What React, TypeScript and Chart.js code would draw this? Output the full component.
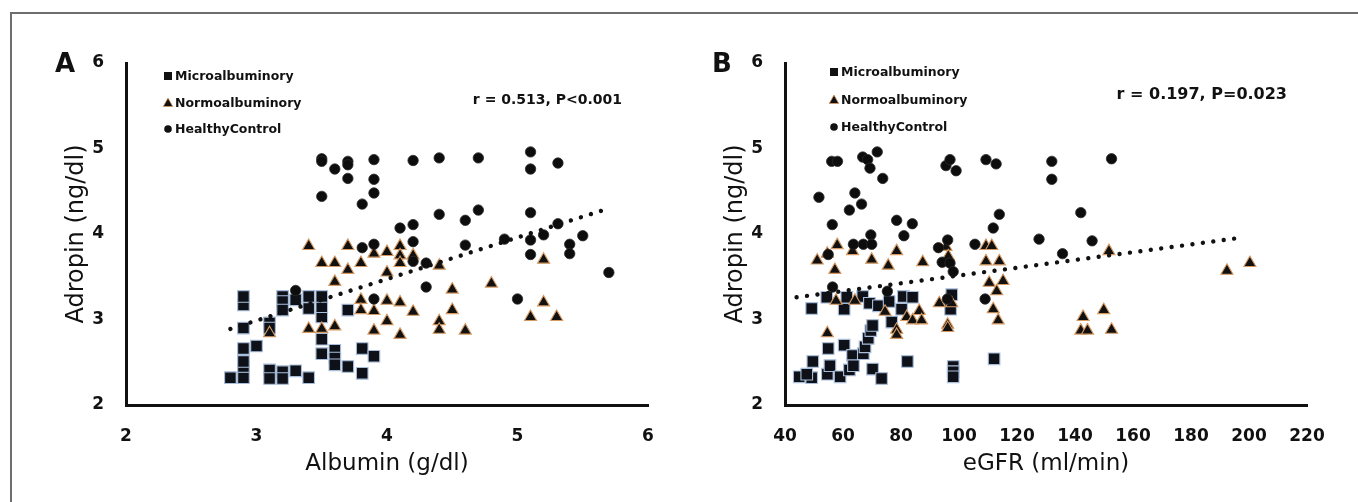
import React, { useEffect, useRef } from "react";
import { Chart, registerables } from "chart.js";

Chart.register(...registerables);

// ---------- Panel A: Albumin (g/dl) vs Adropin (ng/dl) ----------
const albMicroX = [2.8, 2.9, 2.9, 2.9, 2.9, 3.0, 2.9, 2.9, 2.9, 3.1, 3.1, 3.2, 3.2, 3.3, 3.4, 3.1, 3.1, 3.5, 3.5, 3.6, 3.6, 3.6, 3.7, 3.81, 3.81, 3.9, 3.5, 3.5, 3.5, 3.7, 3.2, 3.2, 3.2, 3.3, 3.4, 3.4];
const albMicroY = [2.32, 2.32, 2.45, 2.51, 2.66, 2.69, 2.9, 3.17, 3.27, 2.41, 2.31, 2.39, 2.31, 2.4, 2.32, 2.96, 2.9, 2.6, 2.77, 2.64, 2.55, 2.47, 2.45, 2.66, 2.37, 2.57, 3.03, 3.15, 3.27, 3.11, 3.27, 3.21, 3.11, 3.23, 3.27, 3.13];

const albNormoX = [3.4, 3.7, 3.5, 3.6, 3.8, 3.7, 3.6, 3.9, 4.0, 4.1, 4.1, 4.1, 4.2, 4.0, 4.4, 4.8, 4.5, 5.2, 3.8, 3.8, 3.9, 4.0, 4.1, 4.2, 4.5, 4.0, 4.4, 4.4, 3.9, 4.1, 4.6, 3.4, 3.5, 3.6, 3.1, 5.1, 5.2, 5.3];
const albNormoY = [3.86, 3.86, 3.66, 3.66, 3.66, 3.58, 3.44, 3.77, 3.79, 3.86, 3.75, 3.66, 3.75, 3.55, 3.63, 3.42, 3.35, 3.7, 3.23, 3.11, 3.1, 3.22, 3.2, 3.09, 3.11, 2.98, 2.98, 2.88, 2.87, 2.82, 2.87, 2.89, 2.89, 2.92, 2.84, 3.03, 3.2, 3.03];

const albHealthyX = [3.5, 3.5, 3.6, 3.7, 3.7, 3.9, 3.7, 3.9, 3.9, 3.5, 3.81, 4.2, 4.4, 4.7, 5.1, 5.1, 5.31, 4.4, 4.6, 4.7, 5.1, 4.1, 4.2, 4.2, 3.9, 3.81, 4.6, 4.9, 5.1, 5.2, 5.31, 5.4, 5.4, 5.5, 5.1, 5.7, 4.2, 4.3, 4.3, 5.0, 3.9, 3.3];
const albHealthyY = [4.88, 4.85, 4.76, 4.85, 4.81, 4.87, 4.65, 4.64, 4.48, 4.44, 4.35, 4.86, 4.89, 4.89, 4.96, 4.76, 4.83, 4.23, 4.16, 4.28, 4.25, 4.07, 4.11, 3.91, 3.88, 3.84, 3.87, 3.94, 3.93, 3.99, 4.12, 3.88, 3.77, 3.98, 3.76, 3.55, 3.68, 3.66, 3.38, 3.24, 3.24, 3.34];

const albTrendX = [2.8, 5.68];
const albTrendY = [2.89, 4.29];

const albTicksX = [2, 3, 4, 5, 6];

// ---------- Panel B: eGFR (ml/min) vs Adropin (ng/dl) ----------
const gfrMicroX = [44.9, 49.2, 47.5, 49.6, 49.2, 54.6, 55.5, 54.9, 54.4, 59.0, 60.4, 60.4, 61.3, 62.2, 63.3, 63.6, 66.8, 67.0, 67.6, 68.7, 69.6, 70.2, 69.1, 70.2, 72.2, 73.3, 75.9, 76.8, 80.2, 80.8, 84.0, 82.2, 97.5, 97.1, 98.0, 98.0, 98.0, 112.1];
const gfrMicroY = [2.33, 2.32, 2.36, 2.51, 3.13, 2.36, 2.46, 2.66, 3.26, 2.33, 2.7, 3.12, 3.26, 2.41, 2.58, 2.46, 3.27, 2.6, 2.68, 2.78, 2.87, 2.93, 3.19, 2.42, 3.16, 2.31, 3.21, 2.97, 3.12, 3.27, 3.26, 2.51, 3.29, 3.12, 2.45, 2.39, 2.33, 2.54];

const gfrNormoX = [51.1, 54.6, 58.0, 63.3, 57.2, 69.9, 78.5, 75.6, 87.5, 54.6, 57.6, 64.1, 74.5, 82.0, 84.0, 86.3, 87.1, 78.5, 78.5, 93.2, 97.5, 96.1, 96.1, 109.3, 111.3, 109.3, 113.9, 110.4, 115.2, 113.0, 111.8, 113.5, 95.5, 96.3, 151.7, 142.8, 142.0, 144.3, 149.9, 152.6, 192.4, 200.3];
const gfrNormoY = [3.69, 3.77, 3.87, 3.8, 3.58, 3.7, 3.8, 3.63, 3.67, 2.84, 3.22, 3.22, 3.09, 3.03, 2.99, 3.1, 2.99, 2.88, 2.82, 3.19, 3.19, 2.94, 2.9, 3.86, 3.86, 3.68, 3.68, 3.43, 3.45, 3.33, 3.12, 2.99, 3.85, 3.74, 3.8, 3.03, 2.87, 2.87, 3.11, 2.88, 3.57, 3.66];

const gfrHealthyX = [56.1, 58.1, 66.8, 68.5, 69.3, 71.8, 73.7, 51.7, 64.1, 66.4, 62.2, 56.3, 78.5, 83.9, 81.0, 69.6, 63.6, 67.0, 69.9, 54.9, 95.5, 96.9, 99.0, 109.3, 112.8, 113.9, 111.8, 96.1, 92.9, 105.5, 127.6, 132.0, 132.0, 142.0, 145.9, 135.7, 152.6, 94.2, 96.9, 98.0, 56.4, 75.3, 96.0, 109.0];
const gfrHealthyY = [4.85, 4.85, 4.9, 4.87, 4.77, 4.96, 4.65, 4.43, 4.48, 4.35, 4.28, 4.11, 4.16, 4.12, 3.98, 3.99, 3.88, 3.88, 3.88, 3.76, 4.8, 4.87, 4.74, 4.87, 4.82, 4.23, 4.07, 3.93, 3.84, 3.88, 3.94, 4.85, 4.64, 4.25, 3.92, 3.77, 4.88, 3.67, 3.66, 3.56, 3.38, 3.33, 3.24, 3.24];

const gfrTrendX = [44, 198];
const gfrTrendY = [3.26, 3.96];

const gfrTicksX = [40, 60, 80, 100, 120, 140, 160, 180, 200, 220];

const adropinTicks = [2, 3, 4, 5, 6];

const seriesNames = ["Microalbuminory", "Normoalbuminory", "HealthyControl"];

// ---------- helpers ----------
const toPoints = (xs: number[], ys: number[]) => xs.map((x, i) => ({ x, y: ys[i] }));

const FONT = '"DejaVu Sans", sans-serif';

const decorPlugin = {
  id: "decor",
  afterDraw(chart: any, _args: any, opts: any) {
    const { ctx, chartArea } = chart;
    ctx.save();
    ctx.fillStyle = "#111";
    // panel letter
    ctx.font = `bold ${opts.letterSize}px ${FONT}`;
    ctx.textAlign = "center";
    ctx.textBaseline = "middle";
    ctx.fillText(opts.letter, opts.letterX, opts.letterY);

    // legend
    ctx.font = `bold ${opts.legendSize}px ${FONT}`;
    ctx.textAlign = "left";
    const mx = chartArea.left + opts.legendDx;
    opts.legendRows.forEach((dy: number, i: number) => {
      const my = chartArea.top + dy;
      ctx.fillStyle = "#111";
      if (i === 0) {
        ctx.fillRect(mx - 4, my - 4, 8, 8);
      } else if (i === 1) {
        ctx.beginPath();
        ctx.moveTo(mx, my - 5);
        ctx.lineTo(mx + 4.8, my + 3.5);
        ctx.lineTo(mx - 4.8, my + 3.5);
        ctx.closePath();
        ctx.fill();
        ctx.strokeStyle = "#d69a62";
        ctx.lineWidth = 0.8;
        ctx.stroke();
      } else {
        ctx.beginPath();
        ctx.arc(mx, my, 3.8, 0, Math.PI * 2);
        ctx.fill();
      }
      ctx.fillStyle = "#111";
      ctx.fillText(opts.names[i], mx + 7, my + 0.5);
    });

    // correlation annotation
    ctx.font = `bold ${opts.noteSize}px ${FONT}`;
    ctx.textAlign = "right";
    ctx.fillStyle = "#111";
    ctx.fillText(opts.note, chartArea.right - opts.noteRight, opts.noteY);
    ctx.restore();
  },
};

type PanelProps = {
  left: number;
  width: number;
  micro: { x: number; y: number }[];
  normo: { x: number; y: number }[];
  healthy: { x: number; y: number }[];
  trend: { x: number; y: number }[];
  xTicks: number[];
  xTitle: string;
  decor: any;
};

function Panel(p: PanelProps) {
  const ref = useRef<HTMLCanvasElement | null>(null);
  useEffect(() => {
    if (!ref.current) return;
    const H = 502;
    const areaLeft = 126;
    const areaRight = 648;
    const areaTop = 63;
    const areaBottom = 405;
    const chart = new Chart(ref.current, {
      type: "scatter",
      data: {
        datasets: [
          {
            label: "trend",
            data: p.trend,
            showLine: true,
            borderColor: "#111",
            borderWidth: 4.4,
            borderDash: [0.01, 10.5],
            borderCapStyle: "round",
            pointRadius: 0,
            fill: false,
          } as any,
          {
            label: seriesNames[2],
            data: p.healthy,
            pointStyle: "circle",
            pointRadius: 5.2,
            backgroundColor: "#0d0d0d",
            borderColor: "#2a2a2a",
            borderWidth: 0.8,
          },
          {
            label: seriesNames[1],
            data: p.normo,
            pointStyle: "triangle",
            pointRadius: 7,
            backgroundColor: "#111",
            borderColor: "#d69a62",
            borderWidth: 1.1,
          },
          {
            label: seriesNames[0],
            data: p.micro,
            pointStyle: "rect",
            pointRadius: 8.2,
            backgroundColor: "#0e1118",
            borderColor: "#a9bedb",
            borderWidth: 1.1,
          },
        ],
      },
      options: {
        animation: false,
        responsive: false,
        devicePixelRatio: 1,
        events: [],
        layout: { padding: { left: 0, top: areaTop, right: p.width - areaRight, bottom: 0 } },
        plugins: {
          legend: { display: false },
          tooltip: { enabled: false },
          decor: p.decor,
        } as any,
        scales: {
          x: {
            type: "linear",
            min: p.xTicks[0],
            max: p.xTicks[p.xTicks.length - 1],
            afterBuildTicks: (s: any) => {
              s.ticks = p.xTicks.map((v) => ({ value: v }));
            },
            afterFit: (s: any) => {
              s.height = H - areaBottom;
              s.paddingLeft = 0;
              s.paddingRight = 0;
            },
            grid: { display: false, drawTicks: false },
            border: { display: true, color: "#111", width: 3 },
            ticks: {
              autoSkip: false,
              maxRotation: 0,
              padding: 21,
              color: "#111",
              font: { family: FONT, size: 17, weight: "bold" },
            },
            title: {
              display: true,
              text: p.xTitle,
              color: "#111",
              font: { family: FONT, size: 23, weight: "normal" },
              padding: { top: 0, bottom: 24 },
            },
          },
          y: {
            type: "linear",
            min: adropinTicks[0],
            max: adropinTicks[adropinTicks.length - 1],
            afterBuildTicks: (s: any) => {
              s.ticks = adropinTicks.map((v) => ({ value: v }));
            },
            afterFit: (s: any) => {
              s.width = areaLeft;
              s.paddingTop = 0;
              s.paddingBottom = 0;
            },
            grid: { display: false, drawTicks: false },
            border: { display: true, color: "#111", width: 3 },
            ticks: {
              padding: 22,
              color: "#111",
              font: { family: FONT, size: 17, weight: "bold" },
            },
            title: {
              display: true,
              text: "Adropin (ng/dl)",
              color: "#111",
              font: { family: FONT, size: 24, weight: "normal" },
              padding: { top: 62, bottom: 0 },
            },
          },
        },
      } as any,
      plugins: [decorPlugin as any],
    });
    return () => chart.destroy();
  }, []);
  return (
    <div style={{ position: "absolute", left: p.left, top: 0, width: p.width, height: 502 }}>
      <canvas ref={ref} width={p.width} height={502} style={{ width: p.width, height: 502, display: "block" }} />
    </div>
  );
}

export default function App() {
  return (
    <div style={{ position: "fixed", left: 0, top: 0, width: 1358, height: 502, background: "#fff", overflow: "hidden" }}>
      <div
        style={{
          position: "absolute",
          left: 10,
          top: 12,
          right: 0,
          bottom: 0,
          borderTop: "2px solid #6e6e6e",
          borderLeft: "2px solid #6e6e6e",
        }}
      />
      <Panel
        left={0}
        width={680}
        micro={toPoints(albMicroX, albMicroY)}
        normo={toPoints(albNormoX, albNormoY)}
        healthy={toPoints(albHealthyX, albHealthyY)}
        trend={toPoints(albTrendX, albTrendY)}
        xTicks={albTicksX}
        xTitle="Albumin (g/dl)"
        decor={{
          letter: "A",
          letterSize: 26,
          letterX: 65,
          letterY: 65,
          legendSize: 12.5,
          legendDx: 42,
          legendRows: [13, 40, 66],
          names: seriesNames,
          note: "r = 0.513, P<0.001",
          noteSize: 14,
          noteRight: 26,
          noteY: 100,
        }}
      />
      <Panel
        left={659}
        width={699}
        micro={toPoints(gfrMicroX, gfrMicroY)}
        normo={toPoints(gfrNormoX, gfrNormoY)}
        healthy={toPoints(gfrHealthyX, gfrHealthyY)}
        trend={toPoints(gfrTrendX, gfrTrendY)}
        xTicks={gfrTicksX}
        xTitle="eGFR (ml/min)"
        decor={{
          letter: "B",
          letterSize: 26,
          letterX: 63,
          letterY: 65,
          legendSize: 12.5,
          legendDx: 49,
          legendRows: [9, 37, 64],
          names: seriesNames,
          note: "r = 0.197, P=0.023",
          noteSize: 16,
          noteRight: 20,
          noteY: 95,
        }}
      />
    </div>
  );
}
